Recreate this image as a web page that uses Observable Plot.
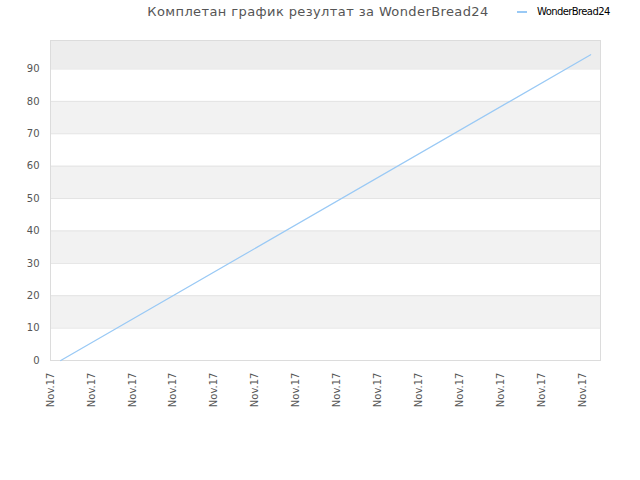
<!DOCTYPE html>
<html><head><meta charset="utf-8">
<script src="https://cdn.jsdelivr.net/npm/d3@7"></script>
<script src="https://cdn.jsdelivr.net/npm/@observablehq/plot@0.6"></script>
<style>
body{margin:0;background:#fff;font-family:"DejaVu Sans",sans-serif;}
#wrap{position:relative;width:640px;height:480px;}
#title{position:absolute;left:0;top:4px;width:636px;text-align:center;font-size:13px;color:#555;letter-spacing:0.4px;}
#legend{position:absolute;left:517px;top:6px;font-size:10px;color:#000;display:flex;align-items:center;font-family:"DejaVu Sans",sans-serif;letter-spacing:-0.6px;}
#legend span.sw{display:inline-block;width:10px;height:2px;background:#99c9f5;margin-right:10px;}
#chart{position:absolute;left:0;top:30px;}
</style></head>
<body><div id="wrap">
<div id="title">Комплетан график резултат за WonderBread24</div>
<div id="legend"><span class="sw"></span>WonderBread24</div>
<div id="chart"></div>
</div>
<script>
const seriesName = "WonderBread24";
const xTickPositions = [0,1,2,3,4,5,6,7,8,9,10,11,12,13];
const xTickLabels = ["Nov.17","Nov.17","Nov.17","Nov.17","Nov.17","Nov.17","Nov.17","Nov.17","Nov.17","Nov.17","Nov.17","Nov.17","Nov.17","Nov.17"];
const pointX = [0.25, 13.2];
const pointY = [0, 94.4];
const yTicks = [0,10,20,30,40,50,60,70,80,90];
const shadedBands = [[10,20],[30,40],[50,60],[70,80]];
const topBand = [[90,98.8]];

const linePts = pointX.map((x,i)=>({x, y: pointY[i]}));
const plot = Plot.plot({
  width: 640, height: 450,
  marginTop: 10, marginBottom: 120, marginLeft: 50, marginRight: 40,
  style: {fontFamily: "DejaVu Sans, sans-serif", fontSize: "10px", color: "#555", background: "transparent"},
  x: {domain: [0, 13.44], axis: null},
  y: {domain: [0, 98.8], axis: null},
  marks: [
    Plot.rect(shadedBands, {x1: 0, x2: 13.44, y1: d=>d[0], y2: d=>d[1], fill: "#f2f2f2"}),
    Plot.rect(topBand, {x1: 0, x2: 13.44, y1: d=>d[0], y2: d=>d[1], fill: "#ededed"}),
    Plot.ruleY(yTicks.slice(1), {stroke: "#e3e3e3"}),
    Plot.frame({stroke: "#dcdcdc"}),
    Plot.axisY(yTicks, {tickSize: 0, tickPadding: 11, label: null, fill: "#555"}),
    Plot.axisX(xTickPositions, {tickSize: 0, tickPadding: 12, tickRotate: -90, label: null, tickFormat: (d,i)=>xTickLabels[i], fill: "#555"}),
    Plot.line(linePts, {x: "x", y: "y", stroke: "#99c9f5", strokeWidth: 1.2})
  ]
});
document.getElementById("chart").appendChild(plot);
</script>
</body></html>
